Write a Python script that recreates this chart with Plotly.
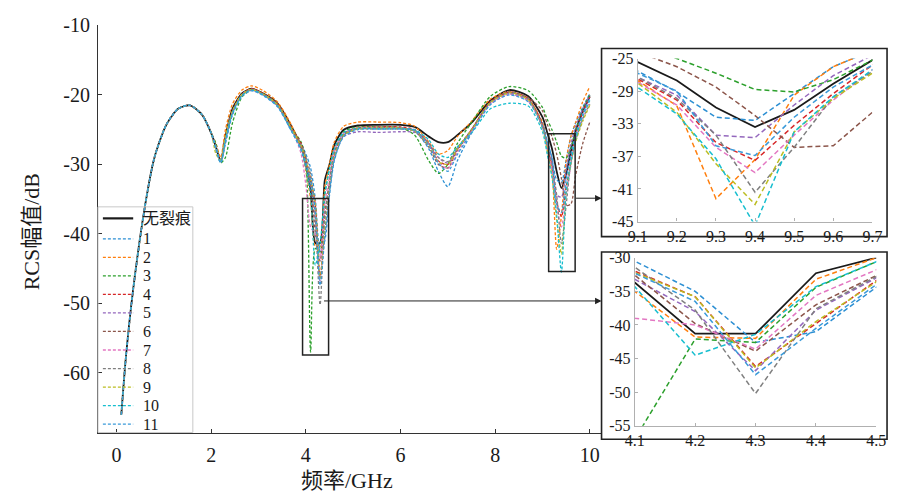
import plotly.graph_objects as go

# ---------------- data ----------------
freq = [0.1, 0.2, 0.35, 0.6, 0.8, 1.05, 1.3, 1.55, 1.8, 2.0,
        2.1, 2.2, 2.3, 2.45, 2.65, 2.85, 3.1, 3.4, 3.7, 3.9, 4.0,
        4.1, 4.2, 4.3, 4.4, 4.5,
        4.6, 4.8, 5.1, 5.5, 6.0, 6.3, 6.6, 6.8, 7.0, 7.2, 7.5, 7.9, 8.3, 8.7, 9.0,
        9.1, 9.2, 9.3, 9.4, 9.5, 9.6, 9.7,
        9.85, 10.0]

# all cases coincide below 2 GHz
shared_low = [-66.0, -57.5, -48.0, -36.0, -29.0, -24.3, -22.0, -21.5, -22.8, -25.5]

rcs_intact = [-27.5, -29.5, -26.0, -22.0, -19.8, -19.1, -19.8, -21.2, -24.6, -27.5, -30.0,
              -33.7, -41.3, -41.3, -32.3, -30.0,
              -27.2, -25.0, -24.4, -24.3, -24.3, -24.6, -26.0, -26.8, -26.8, -25.8, -24.0, -20.8, -19.3, -20.2, -23.2,
              -25.4, -27.7, -31.0, -33.4, -31.3, -28.1, -25.2,
              -22.4, -20.2]
rcs_1 = [-27.8, -29.8, -27.0, -22.8, -20.0, -19.2, -19.9, -21.5, -25.2, -27.0, -28.5,
         -30.5, -35.0, -42.6, -41.0, -34.4,
         -29.5, -25.8, -24.8, -24.7, -24.7, -25.2, -27.8, -31.0, -33.2, -29.5, -25.5, -21.3, -19.8, -20.8, -24.0,
         -26.6, -29.1, -32.2, -32.6, -29.3, -26.0, -24.0,
         -21.8, -19.8]
rcs_2 = [-27.0, -29.0, -25.0, -21.3, -19.3, -18.7, -19.4, -21.0, -24.4, -27.6, -31.0,
         -35.0, -41.8, -42.0, -33.2, -30.0,
         -26.8, -24.5, -23.9, -23.9, -24.0, -24.5, -26.8, -28.5, -28.0, -26.0, -23.8, -20.6, -19.5, -20.6, -24.0,
         -27.7, -30.8, -42.2, -37.4, -29.5, -26.0, -24.0,
         -21.0, -18.8]
rcs_3 = [-27.0, -29.8, -29.0, -24.0, -20.3, -19.3, -19.8, -21.4, -24.8, -26.8, -29.5,
         -57.0, -42.1, -42.6, -34.4, -30.6,
         -27.8, -25.3, -24.6, -24.6, -24.7, -25.8, -29.5, -31.3, -30.0, -27.0, -24.0, -20.2, -18.8, -19.4, -21.8,
         -23.5, -25.0, -26.8, -28.8, -29.1, -27.6, -25.2,
         -22.0, -20.0]
rcs_4 = [-27.6, -29.6, -26.3, -22.3, -19.9, -19.1, -19.8, -21.3, -24.8, -27.0, -29.3,
         -32.0, -35.8, -46.2, -39.8, -33.4,
         -28.8, -25.6, -24.7, -24.6, -24.6, -25.0, -27.0, -29.5, -30.0, -27.8, -25.0, -21.0, -19.6, -20.5, -24.3,
         -27.5, -30.1, -35.3, -37.5, -33.2, -29.3, -25.8,
         -22.5, -20.3]
rcs_5 = [-27.5, -29.5, -26.5, -22.6, -20.0, -19.3, -20.0, -21.6, -25.0, -27.6, -30.0,
         -33.2, -38.0, -46.8, -37.8, -33.0,
         -28.8, -26.0, -25.3, -25.4, -25.3, -25.4, -27.0, -29.0, -29.8, -27.8, -25.2, -21.2, -19.8, -20.8, -24.5,
         -27.3, -29.5, -34.4, -34.7, -30.7, -27.1, -24.6,
         -22.0, -20.0]
rcs_6 = [-27.6, -29.4, -26.4, -22.5, -20.0, -19.2, -19.9, -21.4, -24.9, -27.4, -29.8,
         -32.6, -39.8, -43.9, -37.0, -32.5,
         -28.3, -25.6, -24.9, -24.9, -24.9, -25.2, -27.5, -30.0, -30.5, -28.0, -25.0, -21.0, -19.6, -20.4, -22.3,
         -24.2, -26.0, -28.5, -32.0, -35.9, -35.7, -31.6,
         -27.0, -23.9]
rcs_7 = [-27.5, -29.5, -26.2, -22.4, -19.9, -19.2, -19.9, -21.4, -25.0, -28.5, -33.0,
         -39.0, -40.0, -43.6, -35.6, -31.8,
         -28.0, -25.5, -24.8, -24.8, -24.8, -25.1, -27.2, -29.6, -30.6, -28.3, -25.3, -21.3, -19.9, -20.9, -24.6,
         -27.9, -30.7, -35.9, -39.0, -34.4, -30.1, -26.4,
         -23.2, -21.0]
rcs_8 = [-27.5, -29.6, -26.4, -22.5, -20.0, -19.2, -19.9, -21.4, -24.9, -27.2, -28.9,
         -31.4, -37.8, -50.2, -37.6, -32.8,
         -28.5, -25.7, -24.9, -24.8, -24.8, -25.1, -27.0, -29.0, -29.6, -27.6, -25.0, -21.0, -19.6, -20.6, -24.4,
         -27.3, -29.9, -34.4, -41.4, -35.9, -29.7, -26.6,
         -23.5, -21.3]
rcs_9 = [-28.5, -29.4, -26.0, -22.3, -19.9, -19.2, -19.9, -21.4, -24.9, -27.4, -29.5,
         -32.2, -35.8, -46.4, -39.5, -33.6,
         -29.0, -25.8, -24.9, -24.8, -24.8, -25.2, -27.3, -29.6, -30.0, -27.8, -25.1, -21.1, -19.7, -20.7, -24.8,
         -28.0, -31.6, -37.9, -42.9, -34.0, -29.9, -26.8,
         -23.8, -21.5]
rcs_10 = [-27.6, -29.7, -26.5, -22.6, -20.1, -19.3, -20.0, -21.6, -25.2, -28.0, -30.5,
          -34.3, -44.5, -41.4, -34.3, -30.6,
          -27.8, -25.4, -24.8, -24.9, -24.9, -25.0, -26.5, -28.5, -29.0, -27.5, -25.5, -22.0, -21.2, -21.6, -25.3,
          -28.5, -31.8, -37.3, -45.5, -34.0, -29.7, -26.4,
          -23.0, -20.8]
rcs_11 = [-27.8, -29.8, -26.8, -22.8, -20.2, -19.4, -20.1, -21.7, -25.3, -27.8, -29.8,
          -32.3, -36.5, -47.4, -40.5, -34.0,
          -29.3, -26.0, -25.0, -24.9, -24.9, -25.1, -27.3, -29.8, -31.0, -28.6, -25.4, -21.4, -20.0, -21.0, -24.6,
          -26.8, -29.0, -35.7, -36.9, -32.2, -28.5, -25.8,
          -22.7, -20.5]

series_names = ["无裂痕", "1", "2", "3", "4", "5", "6", "7", "8", "9", "10", "11"]
series_values = [rcs_intact, rcs_1, rcs_2, rcs_3, rcs_4, rcs_5, rcs_6,
                 rcs_7, rcs_8, rcs_9, rcs_10, rcs_11]
series_colors = ["#1a1a1a", "#2c8fd3", "#ff7f0e", "#2ca02c", "#d62728", "#9467bd",
                 "#8c564b", "#e377c2", "#7f7f7f", "#bcbd22", "#17becf", "#3a9ad9"]

x_ticks = [0, 2, 4, 6, 8, 10]
y_ticks = [-10, -20, -30, -40, -50, -60]
zoom_hi_ticks_x = [9.1, 9.2, 9.3, 9.4, 9.5, 9.6, 9.7]
zoom_hi_ticks_y = [-25, -29, -33, -37, -41, -45]
zoom_lo_ticks_x = [4.1, 4.2, 4.3, 4.4, 4.5]
zoom_lo_ticks_y = [-30, -35, -40, -45, -50, -55]

# zoom windows marked on the main axes: [x0, x1, y0, y1]
window_lo = [3.93, 4.48, -57.4, -34.9]
window_hi = [9.13, 9.69, -45.4, -25.6]

# ---------------- figure ----------------
W, H = 899, 501


def px(v):
    return v / W


def py(v):
    return 1 - v / H


SERIF = "Times New Roman, Liberation Serif, DejaVu Serif, serif"
CJK = "Times New Roman, Liberation Serif, Noto Sans CJK SC, serif"
DASH_MAIN = "3px,2px"
DASH_ZOOM = "5px,3px"

fig = go.Figure()

for name, vals, col in zip(series_names, series_values, series_colors):
    full = shared_low + vals
    solid = name == "无裂痕"
    fig.add_trace(go.Scatter(
        x=freq, y=full, name=name, mode="lines",
        line=dict(color=col, width=1.8 if solid else 1.3,
                  dash="solid" if solid else DASH_MAIN,
                  shape="spline", smoothing=0.7),
        xaxis="x", yaxis="y", showlegend=False))

# zoomed views reuse the same samples
for (axx, axy, lo, hi) in [("x2", "y2", 9.0, 9.85), ("x3", "y3", 4.0, 4.6)]:
    for name, vals, col in zip(series_names, series_values, series_colors):
        full = shared_low + vals
        pts = [(f, v) for f, v in zip(freq, full) if lo - 1e-9 <= f <= hi + 1e-9]
        solid = name == "无裂痕"
        fig.add_trace(go.Scatter(
            x=[p[0] for p in pts], y=[p[1] for p in pts], mode="lines",
            line=dict(color=col, width=1.8 if solid else 1.5,
                      dash="solid" if solid else DASH_ZOOM),
            xaxis=axx, yaxis=axy, showlegend=False, hoverinfo="skip"))

main_axis = dict(showline=True, linecolor="#333333", linewidth=1.2, ticks="inside",
                 ticklen=4, tickcolor="#333333", showgrid=False, zeroline=False,
                 tickfont=dict(family=SERIF, size=20, color="#1a1a1a"), mirror=False,
                 ticklabelstandoff=3)
inset_axis = dict(showline=True, linecolor="#b0b0b0", linewidth=1.2, ticks="inside",
                  ticklen=3, tickcolor="#b0b0b0", showgrid=False, zeroline=False,
                  tickfont=dict(family=SERIF, size=16, color="#1a1a1a"))

fig.update_layout(
    width=W, height=H, margin=dict(l=0, r=0, t=0, b=0),
    paper_bgcolor="white", plot_bgcolor="rgba(0,0,0,0)", showlegend=False,
    xaxis=dict(domain=[px(90), px(604)], range=[(90 - 109) / 48.4, (604 - 109) / 48.4],
               tickvals=x_ticks, ticktext=[str(v) for v in x_ticks], anchor="y", **main_axis),
    yaxis=dict(domain=[py(440), py(15)], range=[-68.7, -10],
               tickvals=y_ticks, ticktext=[str(v) for v in y_ticks], anchor="x", **main_axis),
    xaxis2=dict(domain=[px(642), px(882)], range=[9.1, 9.7], anchor="y2",
                tickvals=zoom_hi_ticks_x, ticktext=[f"{v:.1f}" for v in zoom_hi_ticks_x], **inset_axis),
    yaxis2=dict(domain=[py(219.3), py(49.5)], range=[-45, -25], anchor="x2",
                tickvals=zoom_hi_ticks_y, ticktext=[str(v) for v in zoom_hi_ticks_y], **inset_axis),
    xaxis3=dict(domain=[px(639), px(886)], range=[4.1, 4.5], anchor="y3",
                tickvals=zoom_lo_ticks_x, ticktext=[f"{v:.1f}" for v in zoom_lo_ticks_x], **inset_axis),
    yaxis3=dict(domain=[py(432), py(257)], range=[-55, -30], anchor="x3",
                tickvals=zoom_lo_ticks_y, ticktext=[str(v) for v in zoom_lo_ticks_y], **inset_axis),
)

shapes = []
annotations = []

# marked windows on the main axes
for w in (window_lo, window_hi):
    shapes.append(dict(type="rect", xref="x", yref="y", x0=w[0], x1=w[1], y0=w[2], y1=w[3],
                       line=dict(color="#222222", width=1.5)))
# frames around the enlarged views
for (x0, y0, x1, y1) in [(605, 39, 897, 235), (605, 251, 897, 446)]:
    shapes.append(dict(type="rect", xref="paper", yref="paper",
                       x0=px(x0), x1=px(x1), y0=py(y1), y1=py(y0),
                       line=dict(color="#222222", width=1.6)))

# legend box with one sample line and label per case
legend_top, legend_row = 216, 19.3
shapes.append(dict(type="rect", xref="paper", yref="paper",
                   x0=px(90), x1=px(187), y0=py(439), y1=py(204),
                   line=dict(color="#c8c8c8", width=1)))
for i, (name, col) in enumerate(zip(series_names, series_colors)):
    yy = legend_top + i * legend_row + (0 if i == 0 else 2)
    solid = name == "无裂痕"
    shapes.append(dict(type="line", xref="paper", yref="paper",
                       x0=px(95), x1=px(126), y0=py(yy), y1=py(yy),
                       line=dict(color=col, width=2.2 if solid else 1.3,
                                 dash="solid" if solid else DASH_MAIN)))
    annotations.append(dict(text=name, x=px(134), y=py(yy), xref="paper", yref="paper",
                            xanchor="left", yanchor="middle", showarrow=False,
                            font=dict(family=CJK, size=16, color="#1a1a1a")))

fig.update_layout(shapes=shapes)

annotations += [
    dict(text="RCS幅值/dB", x=px(22), y=py(230), xref="paper", yref="paper",
         xanchor="center", yanchor="middle",
         showarrow=False, textangle=-90, font=dict(family=CJK, size=22, color="#1a1a1a")),
    dict(text="频率/GHz", x=px(345), y=py(489), xref="paper", yref="paper",
         xanchor="center", yanchor="middle",
         showarrow=False, font=dict(family=CJK, size=22, color="#1a1a1a")),
    # connectors from the marked windows to the enlarged views
    dict(text="", x=px(605), y=py(195), xref="paper", yref="paper", axref="pixel", ayref="pixel",
         ax=-27, ay=0, showarrow=True, arrowhead=2, arrowsize=1.3, arrowwidth=1, arrowcolor="#222222"),
    dict(text="", x=px(605), y=py(302), xref="paper", yref="paper", axref="pixel", ayref="pixel",
         ax=-279, ay=0, showarrow=True, arrowhead=2, arrowsize=1.3, arrowwidth=1, arrowcolor="#222222"),
]
fig.update_layout(annotations=annotations)

fig.write_html("out.html")
